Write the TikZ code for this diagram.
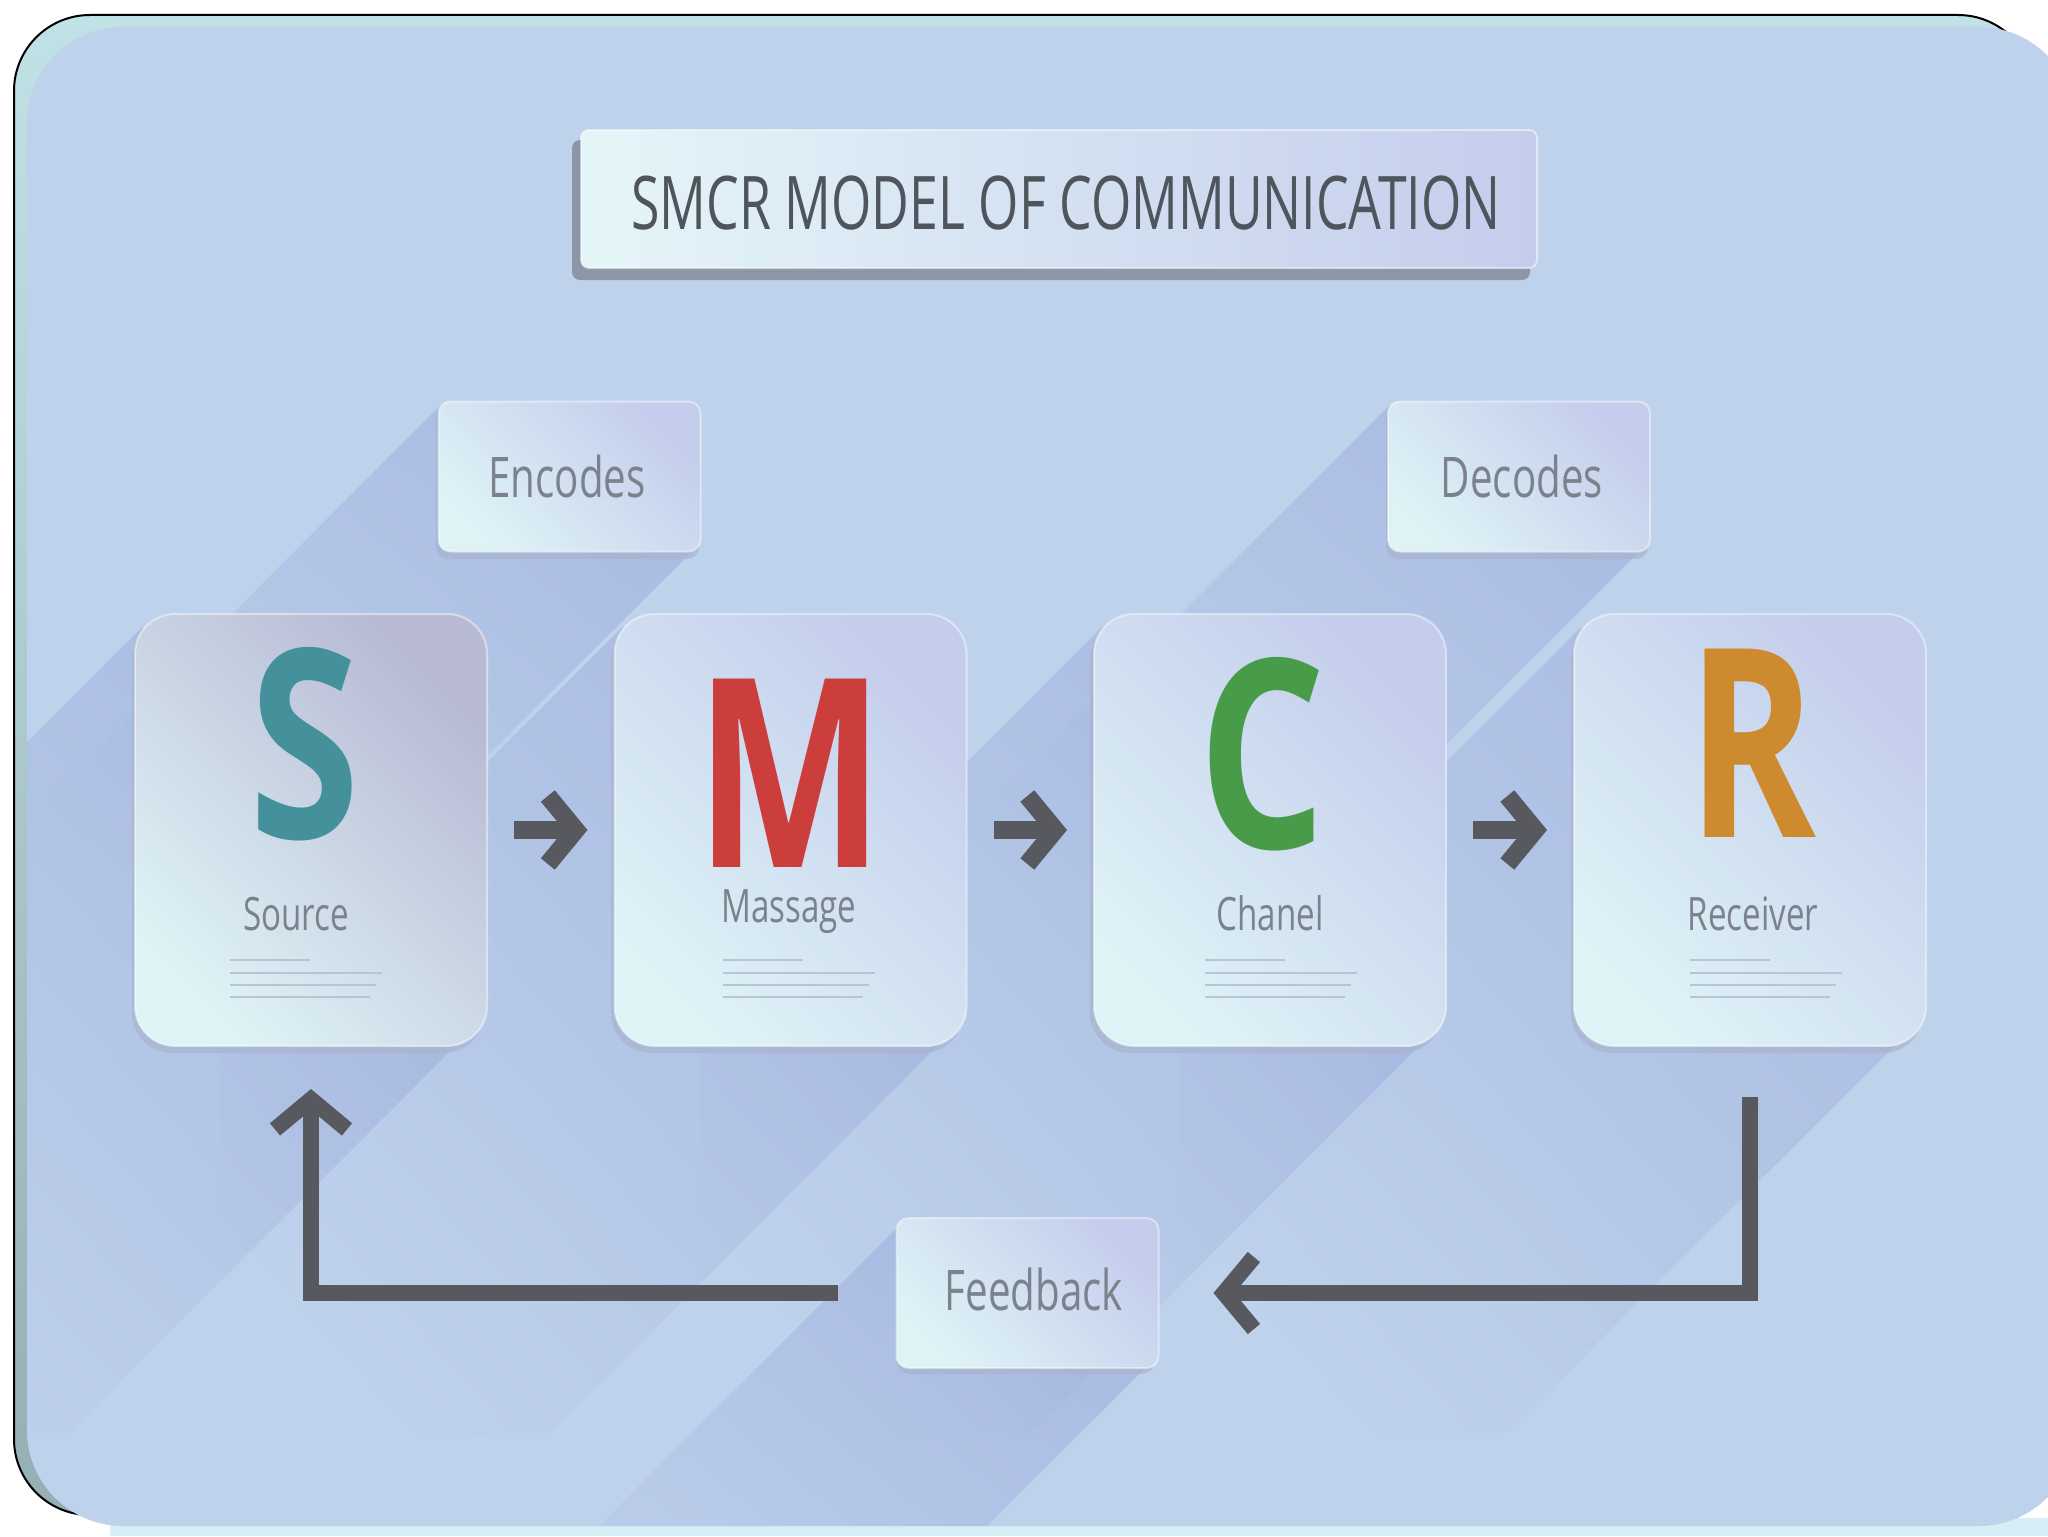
\documentclass[tikz,border=0pt]{standalone}
\usepackage{fontspec}
\setmainfont{Open Sans}
\usepackage{graphicx}
\usetikzlibrary{arrows.meta,fadings}
\definecolor{bgblue}{RGB}{191,210,236}
\definecolor{frameteal}{RGB}{192,225,229}
\definecolor{framegray}{RGB}{150,174,180}
\definecolor{bandcyan}{RGB}{214,238,246}
\definecolor{shadowc}{RGB}{150,166,216}
\definecolor{cardcyan}{RGB}{222,243,246}
\definecolor{cardlav}{RGB}{196,205,236}
\definecolor{cardmauve}{RGB}{184,186,212}
\definecolor{slabc}{RGB}{168,180,206}
\definecolor{titleslab}{RGB}{140,150,166}
\definecolor{titletext}{RGB}{78,85,92}
\definecolor{labeltext}{RGB}{123,130,139}
\definecolor{arrowgray}{RGB}{88,89,94}
\definecolor{lorem}{RGB}{186,195,214}
\definecolor{scol}{RGB}{69,145,155}
\definecolor{mcol}{RGB}{204,62,60}
\definecolor{ccol}{RGB}{72,155,72}
\definecolor{rcol}{RGB}{206,138,46}
\newcommand{\cnd}[2]{\scalebox{#1}[1]{#2}}
\begin{document}
\begin{tikzpicture}[x=0.5pt,y=-0.5pt,
  card/.style={shape=rectangle, rounded corners=20pt, inner sep=0pt,
    minimum width=176pt, minimum height=216pt,
    top color=cardlav, bottom color=cardcyan, shading angle=-45,
    draw=white, draw opacity=0.45, line width=1pt},
  tag/.style={shape=rectangle, rounded corners=6pt, inner sep=0pt,
    minimum width=131pt, minimum height=75pt,
    top color=cardlav, bottom color=cardcyan, shading angle=-45,
    draw=white, draw opacity=0.45, line width=1pt},
  tagtext/.style={anchor=base, inner sep=0pt, text=labeltext, font=\fontsize{28}{28}\selectfont},
  bigletter/.style={anchor=base, inner sep=0pt, font=\fontsize{132}{132}\selectfont\bfseries},
  lbl/.style={anchor=base, inner sep=0pt, text=labeltext, font=\fontsize{23}{23}\selectfont},
  flow/.style={line width=9pt, draw=arrowgray, line cap=butt,
    -{Straight Barb[length=14pt,width=34pt]}},
  fb/.style={line width=8pt, draw=arrowgray, line cap=butt, line join=miter,
    -{Straight Barb[length=15pt,width=36pt]}},
  loremline/.style={draw=lorem, line width=1.3pt},
  longshadow/.style={fill=shadowc, opacity=0.5, path fading=south, fading angle=-45}
]
\useasboundingbox (0,0) rectangle (2048,1536);
\fill[white] (0,0) rectangle (2048,1536);
% frame
\shade[top color=frameteal, bottom color=framegray, rounded corners=38pt, draw=black, line width=1pt]
  (14,15) rectangle (2034,1515);
\fill[bandcyan] (110,1518) rectangle (2048,1536);
\fill[bgblue, rounded corners=48pt] (27,27) rectangle (2075,1526);
% long shadows (swept at 45 degrees toward the lower left)
\begin{scope}
\clip[rounded corners=48pt] (27,27) rectangle (2075,1526);
\foreach \xa/\ya/\xb/\yb/\ins in {438/401/701/552/4, 1388/401/1650/552/4, 135/614/487/1046/12, 614/614/967/1046/12, 1093/614/1447/1046/12, 1574/614/1926/1046/12, 899/1219/1156/1367/4}{
  \path[longshadow] ({\xb-\ins},{\ya+\ins}) -- ({\xa+\ins},{\ya+\ins}) -- ({\xa+\ins-400},{\ya+\ins+400})
     -- ({\xa-400},{\yb+400}) -- ({\xb-\ins-400},{\yb-\ins+400}) -- ({\xb-\ins},{\yb-\ins}) -- cycle;
}
\end{scope}
% slabs
\fill[titleslab, rounded corners=4pt] (572,140) rectangle (1530,280);
\foreach \xa/\ya/\xb/\yb in {438/401/701/552, 1388/401/1650/552, 899/1219/1156/1367}{
  \fill[slabc, opacity=0.7, rounded corners=6pt] ({\xa-2},{\ya+6}) rectangle ({\xb-2},{\yb+7});
}
\foreach \xa in {135, 614, 1093, 1574}{
  \fill[slabc, opacity=0.7, rounded corners=20pt] ({\xa-3},620) rectangle ({\xa+349},1053);
}
% title
\node[shape=rectangle, rounded corners=4pt, inner sep=0pt, minimum width=478pt, minimum height=69pt,
  left color=cardcyan!80!white, right color=cardlav, draw=white, draw opacity=0.5, line width=1pt]
  (title) at (1059,199) {};
\node[anchor=base, inner sep=0pt, text=titletext, font=\fontsize{37}{37}\selectfont] (titletxt) at (1066,229)
  {\cnd{0.7}{SMCR MODEL OF COMMUNICATION}};
% tags
\node[tag] (enc) at (569.5,476.5) {};
\node[tagtext] (enctxt) at (567,497) {\cnd{0.72}{Encodes}};
\node[tag] (dec) at (1519,476.5) {};
\node[tagtext] (dectxt) at (1522,497) {\cnd{0.72}{Decodes}};
\node[tag] (fbk) at (1027.5,1293) {};
\node[tagtext] (fbktxt) at (1034,1310) {\cnd{0.72}{Feedback}};
% cards
\node[card, top color=cardmauve, bottom color=cardcyan, shading angle=-45] (S) at (311,830) {};
\node[card] (M) at (790.5,830) {};
\node[card] (C) at (1270,830) {};
\node[card] (R) at (1750,830) {};
% letters
\node[bigletter, text=scol] (Sl) at (305,838) {\cnd{0.76}{S}};
\node[bigletter, text=mcol] (Ml) at (790,867) {\cnd{0.76}{M}};
\node[bigletter, text=ccol] (Cl) at (1262,848) {\cnd{0.76}{C}};
\node[bigletter, text=rcol] (Rl) at (1752,837) {\cnd{0.74}{R}};
% labels
\node[lbl] (Slab) at (296,930) {\cnd{0.72}{Source}};
\node[lbl] (Mlab) at (789,922) {\cnd{0.72}{Massage}};
\node[lbl] (Clab) at (1270,930) {\cnd{0.72}{Chanel}};
\node[lbl] (Rlab) at (1753,930) {\cnd{0.72}{Receiver}};
% placeholder lines
\foreach \lx in {230, 723, 1205, 1690}{
  \draw[loremline] (\lx,960) -- ({\lx+80},960);
  \draw[loremline] (\lx,973) -- ({\lx+152},973);
  \draw[loremline] (\lx,985) -- ({\lx+146},985);
  \draw[loremline] (\lx,997) -- ({\lx+140},997);
}
% flow arrows
\draw[flow] ([xshift=13pt]S.east) -- ([xshift=-13pt]M.west);
\draw[flow] ([xshift=13pt]M.east) -- ([xshift=-13pt]C.west);
\draw[flow] ([xshift=13pt]C.east) -- ([xshift=-13pt]R.west);
% feedback loop
\draw[fb] ([yshift=-25pt]R.south) |- ([xshift=27pt]fbk.east);
\draw[fb] ([xshift=-29pt]fbk.west) -| ([yshift=-21pt]S.south);
\end{tikzpicture}
\end{document}
